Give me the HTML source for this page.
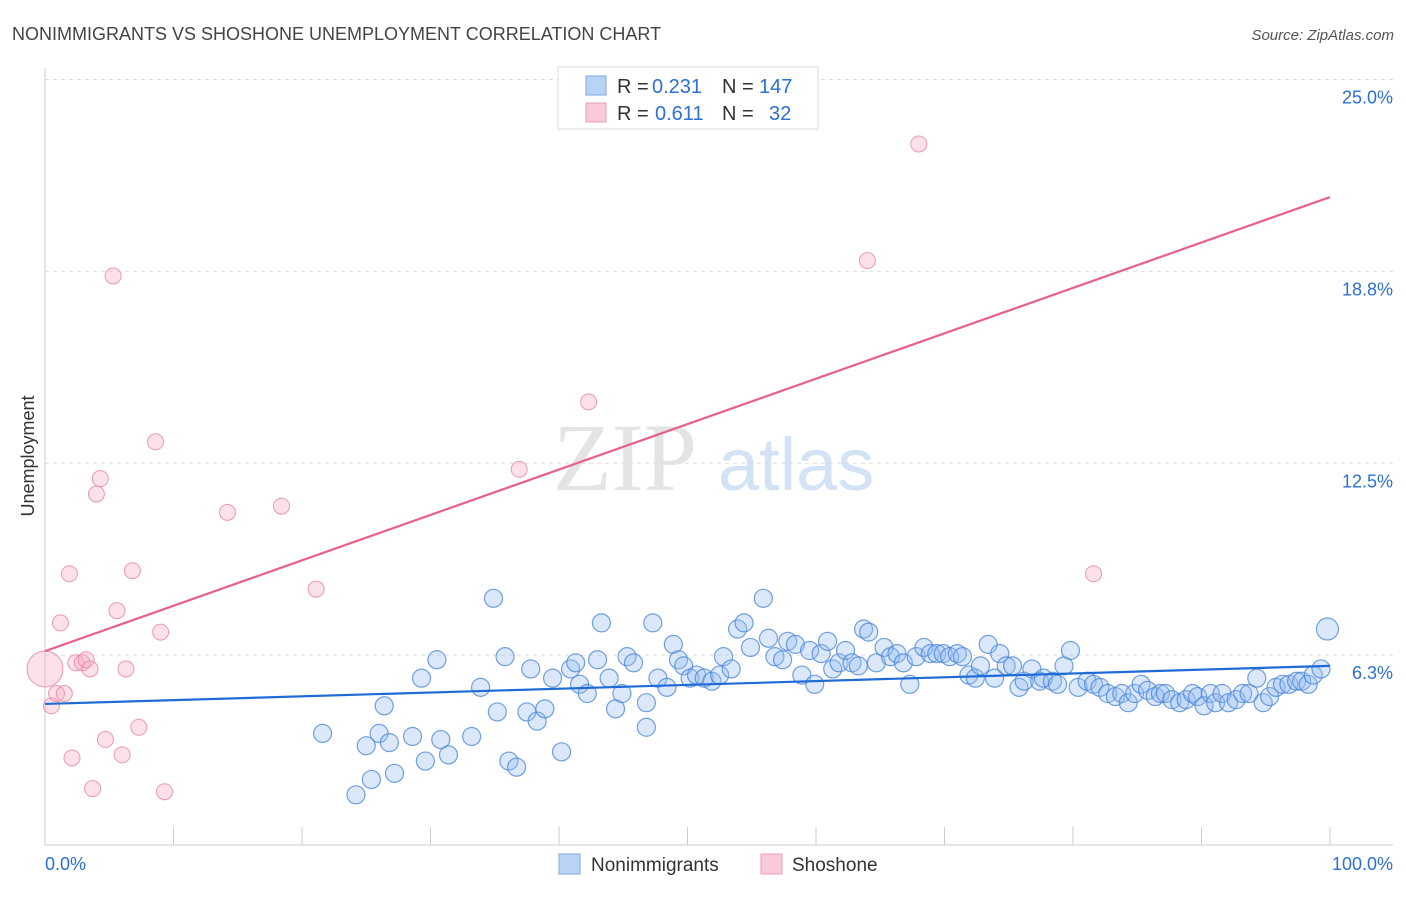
<!DOCTYPE html>
<html><head><meta charset="utf-8"><style>
body{margin:0;background:#fff;font-family:"Liberation Sans",sans-serif;}
svg text{font-family:"Liberation Sans",sans-serif;}
</style></head><body>
<svg id="chart" width="1406" height="892" xmlns="http://www.w3.org/2000/svg">
<text x="12" y="40" font-size="18" fill="#444">NONIMMIGRANTS VS SHOSHONE UNEMPLOYMENT CORRELATION CHART</text>
<text x="1394" y="40" font-size="15" fill="#555" text-anchor="end" font-style="italic">Source: ZipAtlas.com</text>
<text x="34" y="456" font-size="18" fill="#333" text-anchor="middle" transform="rotate(-90 34 456)">Unemployment</text>
<g><text x="553" y="490" font-size="96" fill="#e4e4e4" font-family="Liberation Serif" style="font-family:'Liberation Serif',serif">ZIP</text><text x="718" y="490" font-size="74" fill="#d3e2f5">atlas</text></g>
<g id="grid"></g><g id="marks"></g>
<g>
<rect x="558" y="67" width="260" height="62" fill="#fff" stroke="#ddd"/>
<rect x="586" y="76" width="20" height="19" fill="#b9d3f5" stroke="#7ea9e6"/>
<rect x="586" y="103" width="20" height="19" fill="#f9cad8" stroke="#ee9fb7"/>
<text x="617" y="93" font-size="20" fill="#333">R =</text>
<text x="652" y="93" font-size="20" fill="#2c6fd6">0.231</text>
<text x="722" y="93" font-size="20" fill="#333">N =</text>
<text x="759" y="93" font-size="20" fill="#2c6fd6">147</text>
<text x="617" y="120" font-size="20" fill="#333">R =</text>
<text x="655" y="120" font-size="20" fill="#2c6fd6">0.611</text>
<text x="722" y="120" font-size="20" fill="#333">N =</text>
<text x="769" y="120" font-size="20" fill="#2c6fd6">32</text>
</g>
<g>
<rect x="559" y="854" width="21" height="20" fill="#b9d3f5" stroke="#7ea9e6"/>
<text x="591" y="871" font-size="19" fill="#333">Nonimmigrants</text>
<rect x="761" y="854" width="21" height="20" fill="#f9cad8" stroke="#ee9fb7"/>
<text x="792" y="871" font-size="19" fill="#333">Shoshone</text>
</g>
</svg>
<script>
const blueX=[21.6,24.2,25.0,25.4,26.0,26.8,27.2,26.4,28.6,29.3,29.6,30.5,30.8,31.4,33.2,33.9,34.9,35.2,35.8,36.1,36.7,37.5,37.8,38.3,38.9,39.5,40.2,40.9,41.3,41.6,42.2,43.0,43.3,43.9,44.4,44.9,45.3,45.8,46.8,46.8,47.3,47.7,48.4,48.9,49.3,49.7,50.2,50.7,51.3,51.9,52.5,52.8,53.4,53.9,54.4,54.9,55.9,56.3,56.8,57.4,57.8,58.4,58.9,59.5,59.9,60.4,60.9,61.3,61.8,62.3,62.8,63.3,63.7,64.1,64.7,65.3,65.8,66.3,66.8,67.3,67.8,68.4,68.9,69.4,69.9,70.4,71.0,71.4,71.9,72.4,72.8,73.4,73.9,74.3,74.8,75.3,75.8,76.2,76.8,77.4,77.7,78.4,78.8,79.3,79.8,80.4,81.1,81.6,82.1,82.7,83.3,83.8,84.3,84.8,85.3,85.8,86.4,86.8,87.2,87.7,88.3,88.8,89.3,89.7,90.2,90.7,91.1,91.6,92.1,92.7,93.2,93.7,94.3,94.8,95.3,95.8,96.3,96.8,97.4,97.8,98.3,98.7,99.3,99.8];
const blueY=[3.7,1.7,3.3,2.2,3.7,3.4,2.4,4.6,3.6,5.5,2.8,6.1,3.5,3.0,3.6,5.2,8.1,4.4,6.2,2.8,2.6,4.4,5.8,4.1,4.5,5.5,3.1,5.8,6.0,5.3,5.0,6.1,7.3,5.5,4.5,5.0,6.2,6.0,4.7,3.9,7.3,5.5,5.2,6.6,6.1,5.9,5.5,5.6,5.5,5.4,5.6,6.2,5.8,7.1,7.3,6.5,8.1,6.8,6.2,6.1,6.7,6.6,5.6,6.4,5.3,6.3,6.7,5.8,6.0,6.4,6.0,5.9,7.1,7.0,6.0,6.5,6.2,6.3,6.0,5.3,6.2,6.5,6.3,6.3,6.3,6.2,6.3,6.2,5.6,5.5,5.9,6.6,5.5,6.3,5.9,5.9,5.2,5.4,5.8,5.4,5.5,5.4,5.3,5.9,6.4,5.2,5.4,5.3,5.2,5.0,4.9,5.0,4.7,5.0,5.3,5.1,4.9,5.0,5.0,4.8,4.7,4.8,5.0,4.9,4.6,5.0,4.7,5.0,4.7,4.8,5.0,5.0,5.5,4.7,4.9,5.2,5.3,5.3,5.4,5.4,5.3,5.6,5.8,7.1];
const pinkX=[0,0.5,0.9,1.5,1.2,1.9,2.1,2.4,2.9,3.2,3.5,3.7,4.0,4.3,4.7,5.3,5.6,6.0,6.3,6.8,7.3,8.6,9.0,9.3,14.2,18.4,21.1,36.9,42.3,64.0,68.0,81.6];
const pinkY=[5.8,4.6,5.0,5.0,7.3,8.9,2.9,6.0,6.0,6.1,5.8,1.9,11.5,12.0,3.5,18.6,7.7,3.0,5.8,9.0,3.9,13.2,7.0,1.8,10.9,11.1,8.4,12.3,14.5,19.1,22.9,8.9];
const blueTrend=[4.66,5.90];
const pinkTrend=[6.38,21.17];
const yTicks=[25.0,18.8,12.5,6.3];
const xTickLabels=["0.0%","100.0%"];
const NS="http://www.w3.org/2000/svg";
const sx=v=>45+v*12.85, sy=v=>847-v*30.7;
function mk(t,a,p){const e=document.createElementNS(NS,t);for(const k in a)e.setAttribute(k,a[k]);p.appendChild(e);return e;}
const g=document.getElementById('grid'),m=document.getElementById('marks');
yTicks.forEach((t,i)=>{const yy=sy(t===6.3?6.25:t===18.8?18.75:t);
const l=mk('line',{x1:45,x2:1393,y1:yy,y2:yy,stroke:'#ddd','stroke-dasharray':'4,4'},g);


const tx=mk('text',{x:1393,y:yy+24,'font-size':18,fill:'#2c6fd6','text-anchor':'end'},g);tx.textContent=t.toFixed(1)+'%';

});
const ax=mk('line',{x1:45,x2:1393,y1:845,y2:845,stroke:'#ccc'},g);


const ay=mk('line',{x1:45,x2:45,y1:68,y2:845,stroke:'#ccc'},g);


for(let i=0;i<=10;i++){const t=mk('line',{x1:sx(i*10),x2:sx(i*10),y1:827,y2:845,stroke:'#ccc'},g);

}
[[0,'start',45],[100,'end',1393]].forEach((d,i)=>{const t=mk('text',{x:d[2],y:870,'font-size':18,fill:'#2c6fd6','text-anchor':d[1]},g);t.textContent=xTickLabels[i];

});
pinkX.forEach((x,i)=>{const c=mk('circle',{cx:sx(x),cy:sy(pinkY[i]),r:i===0?18:8,fill:'rgba(246,170,194,0.35)',stroke:'rgba(232,130,160,0.8)','stroke-width':1},m);

});
blueX.forEach((x,i)=>{const c=mk('circle',{cx:sx(x),cy:sy(blueY[i]),r:i===blueX.length-1?11:9,fill:'rgba(150,190,240,0.35)',stroke:'rgba(70,130,215,0.75)','stroke-width':1.2},m);

});
const bl=mk('line',{x1:sx(0),y1:sy(blueTrend[0]),x2:sx(100),y2:sy(blueTrend[1]),stroke:'#1f6bd6','stroke-width':2.2},m);


const pl=mk('line',{x1:sx(0),y1:sy(pinkTrend[0]),x2:sx(100),y2:sy(pinkTrend[1]),stroke:'#e8608e','stroke-width':2.2},m);


</script>
</body></html>
